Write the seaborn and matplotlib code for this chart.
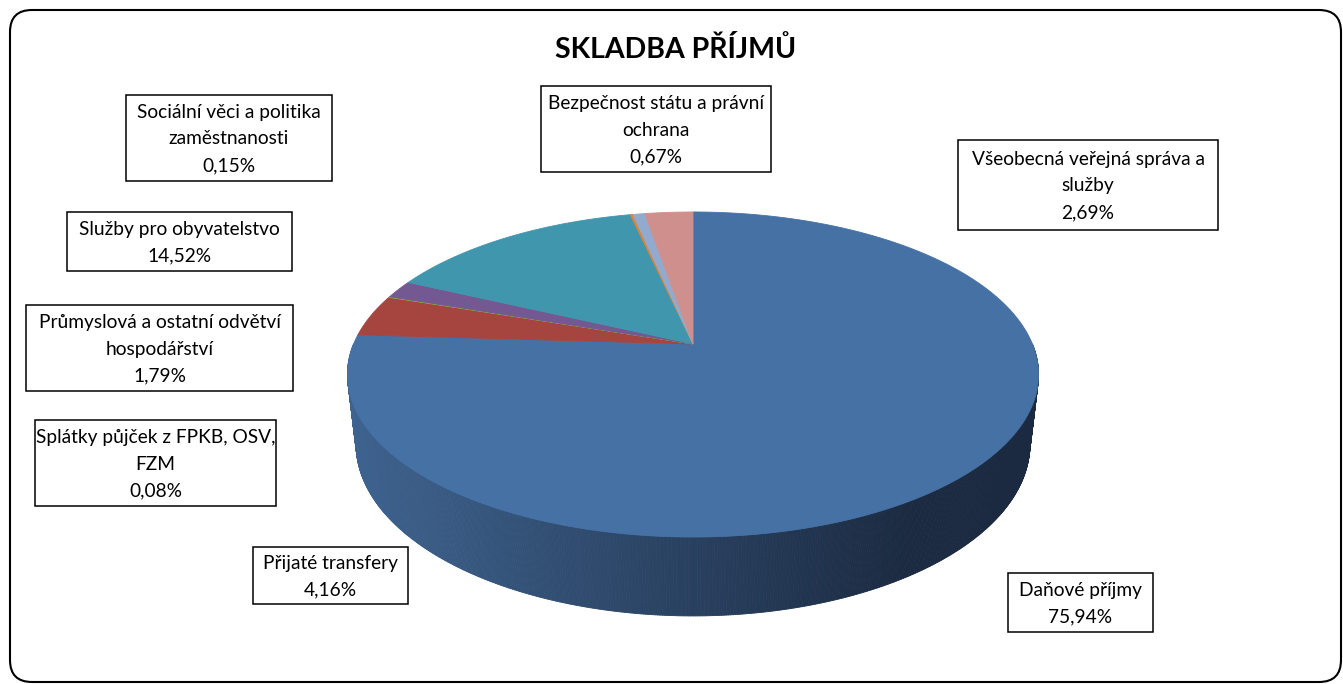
import numpy as np
import matplotlib
matplotlib.use("Agg")
import matplotlib.pyplot as plt
import seaborn as sns
from matplotlib.transforms import Transform
from matplotlib.path import Path
from matplotlib.patches import FancyBboxPatch, Rectangle
from matplotlib.collections import PolyCollection

# ---------------- data ----------------
title = "SKLADBA PŘÍJMŮ"
categories = [
    "Daňové příjmy",
    "Přijaté transfery",
    "Splátky půjček z FPKB, OSV,\nFZM",
    "Průmyslová a ostatní odvětví\nhospodářství",
    "Služby pro obyvatelstvo",
    "Sociální věci a politika\nzaměstnanosti",
    "Bezpečnost státu a právní\nochrana",
    "Všeobecná veřejná správa a\nslužby",
]
shares = [75.94, 4.16, 0.08, 1.79, 14.52, 0.15, 0.67, 2.69]
slice_colors = ["#4571A5", "#A6443F", "#8AA64A", "#745891",
                "#4096AD", "#DB8338", "#93AAD0", "#CF8F8D"]

# ---------------- layout (pixels) ----------------
W, H = 1343, 684
label_boxes = [  # x0, x1, y0, y1
    (1008, 1153, 573, 632),
    (253, 408, 547, 604),
    (35, 276, 420, 506),
    (26, 293, 305, 391),
    (67, 292, 212, 271),
    (126, 332, 95, 181),
    (541, 771, 86, 172),
    (958, 1218, 140, 230),
]
CX, CY = 693.0, 344.0        # apex of the pie on screen
BX, AY = 339.4, 156.8        # horizontal / vertical radius factors
PC = 0.1877                  # perspective strength
DEPTH = 68.0                 # side depth
SB = 0.975                   # bottom rim shrink


class Perspective(Transform):
    input_dims = 2
    output_dims = 2
    is_separable = False
    has_inverse = False

    def __init__(self, dz=0.0, scl=1.0):
        super().__init__()
        self._dz = dz
        self._scl = scl

    def transform_non_affine(self, values):
        v = np.asarray(values, float).reshape(-1, 2)
        x, y = v[:, 0], v[:, 1]
        den = 1.0 + PC * y
        X = CX + self._scl * BX * x / den
        Y = CY - self._scl * AY * y / den + self._dz / den
        return np.column_stack([X, Y])

    def transform_path_non_affine(self, path):
        verts, codes = [], []
        for seg, code in path.iter_bezier():
            cp = seg.control_points
            if code == Path.MOVETO:
                verts.append(cp[0]); codes.append(Path.MOVETO)
            elif code == Path.CLOSEPOLY:
                verts.append(cp[-1]); codes.append(Path.CLOSEPOLY)
            else:
                n = 1 if len(cp) == 2 else 60
                t = np.linspace(0, 1, n + 1)[1:]
                pts = np.atleast_2d(seg(t))
                verts.extend(list(pts)); codes.extend([Path.LINETO] * len(pts))
        verts = np.array(verts, float)
        return Path(self.transform_non_affine(verts), codes)


sns.set_theme(style="white")
plt.rcParams["font.family"] = ["Lato", "DejaVu Sans"]

fig = plt.figure(figsize=(W / 100, H / 100), dpi=100)
fig.patch.set_facecolor("white")

bg = fig.add_axes([0, 0, 1, 1])
bg.set_xlim(0, W)
bg.set_ylim(H, 0)
bg.axis("off")
bg.set_zorder(0)

# outer rounded frame
bg.add_patch(FancyBboxPatch((10, 10), W - 12, H - 12,
                            boxstyle="round,pad=0,rounding_size=22",
                            fc="white", ec="black", lw=1.5, zorder=0))

# side of the 3D pie (front half, shaded)
theta = np.deg2rad(np.linspace(180, 360, 541))
circ = np.column_stack([np.cos(theta), np.sin(theta)])
top = Perspective().transform_non_affine(circ)
bot = Perspective(DEPTH, SB).transform_non_affine(circ)
c_left = np.array([62, 99, 143]) / 255
c_right = np.array([27, 42, 65]) / 255
quads, cols = [], []
for i in range(len(theta) - 1):
    quads.append([top[i], top[i + 1], bot[i + 1], bot[i]])
    xm = (top[i, 0] + top[i + 1, 0]) / 2
    t = np.clip((xm - 350) / 560, 0, 1)
    cols.append(c_left * (1 - t) + c_right * t)
bg.add_collection(PolyCollection(quads, facecolors=cols, edgecolors=cols,
                                 linewidths=0.6, zorder=1))

# top face via pie
pie_ax = fig.add_axes([0, 0, 1, 1])
pie_ax.axis("off")
pie_ax.set_zorder(1)
wedges, _ = pie_ax.pie(shares, colors=slice_colors, startangle=90,
                       counterclock=False, radius=1.0,
                       wedgeprops=dict(linewidth=0.6))
for w in wedges:
    w.set_edgecolor(w.get_facecolor())
    w.set_transform(Perspective() + bg.transData)
    w.set_clip_on(False)

# title
bg.text(676, 50, title, ha="center", va="center", fontsize=20.5,
        fontweight="bold", color="black", zorder=5)

# data labels
for name, val, (x0, x1, y0, y1) in zip(categories, shares, label_boxes):
    bg.add_patch(Rectangle((x0, y0), x1 - x0, y1 - y0, fc="white",
                           ec="black", lw=1.1, zorder=4))
    txt = f"{name}\n{val:.2f}%".replace(".", ",")
    bg.text((x0 + x1) / 2, (y0 + y1) / 2 + 1, txt, ha="center", va="center",
            fontsize=13.8, linespacing=1.68, color="black", zorder=5)

fig.savefig("out.png", dpi=100, facecolor="white")
